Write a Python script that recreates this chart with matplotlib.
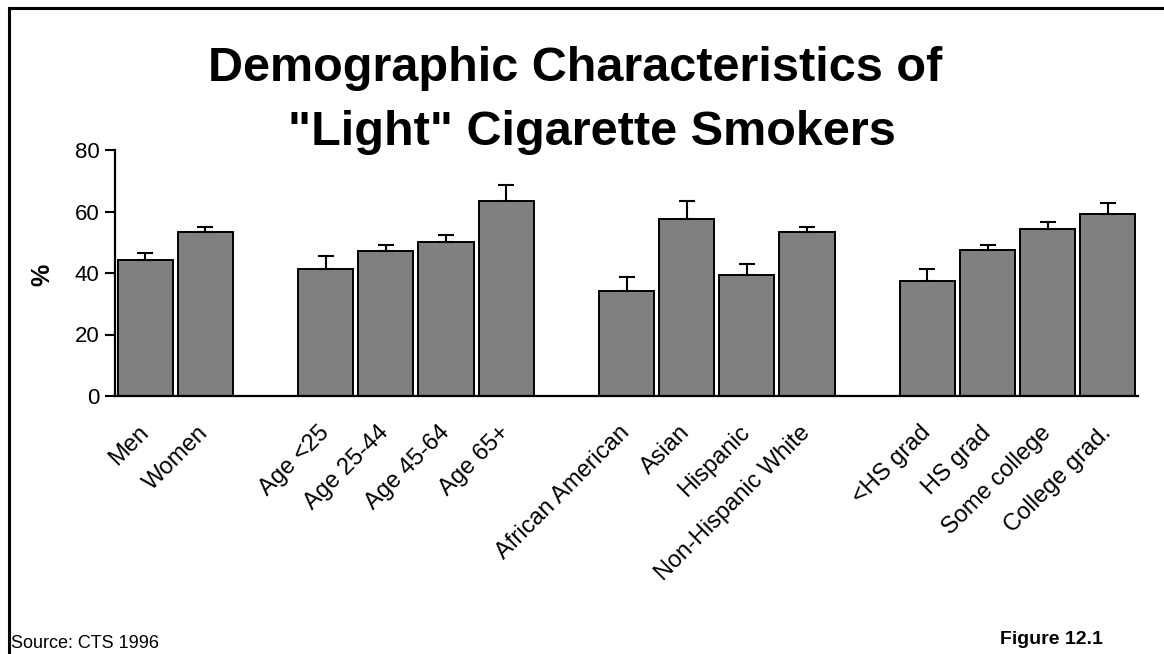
import numpy as np
import matplotlib
matplotlib.use('Agg')
from matplotlib import pyplot as plt
from matplotlib.patches import Rectangle

plt.rcParams['font.family'] = ['Liberation Sans', 'DejaVu Sans']

# data
categories = ['Men', 'Women',
              'Age <25', 'Age 25-44', 'Age 45-64', 'Age 65+',
              'African American', 'Asian', 'Hispanic', 'Non-Hispanic White',
              '<HS grad', 'HS grad', 'Some college', 'College grad.']
groups = [2, 4, 4, 4]
values = [44.2, 53.3, 41.3, 47.3, 50.2, 63.3, 34.3, 57.4, 39.2, 53.4, 37.4, 47.4, 54.3, 59.3]
upper_err = [2.2, 1.8, 4.3, 1.8, 2.3, 5.3, 4.3, 5.9, 3.6, 1.7, 3.8, 1.7, 2.3, 3.6]
yticks = [0, 20, 40, 60, 80]
title_lines = ['Demographic Characteristics of', '"Light" Cigarette Smokers']

# x positions: one empty slot between groups
positions = []
pos = 0
for n in groups:
    positions += list(range(pos, pos + n))
    pos += n + 1
positions = np.array(positions)

fig = plt.figure(figsize=(11.64, 6.54), dpi=100)
ax = fig.add_axes([115/1164, 1 - 396/654, (1138 - 115)/1164, (396 - 150)/654])

ax.bar(positions, values, width=0.915, color='#808080', edgecolor='black', linewidth=1.4, zorder=2)
ax.errorbar(positions, values, yerr=[np.zeros(len(values)), upper_err], fmt='none',
            ecolor='black', elinewidth=1.5, capsize=6, capthick=1.5, zorder=3)

ax.set_xlim(-0.5, positions[-1] + 0.5)
ax.set_ylim(0, 80)
ax.set_yticks(yticks)
ax.tick_params(axis='y', direction='out', length=7, width=1.5, labelsize=16, pad=4)
ax.set_xticks(positions)
ax.set_xticklabels(categories, rotation=45, ha='right', va='center', rotation_mode='anchor', fontsize=17)
ax.tick_params(axis='x', length=0, pad=24)
for s in ['top', 'right']:
    ax.spines[s].set_visible(False)
for s in ['left', 'bottom']:
    ax.spines[s].set_linewidth(1.6)

fig.text(42/1164, 1 - 275/654, '%', rotation=90, fontsize=18, fontweight='bold', ha='center', va='center')

fig.text(575/1164, 1 - 81/654, title_lines[0], fontsize=35, fontweight='bold', ha='center', va='baseline')
fig.text(592/1164, 1 - 145/654, title_lines[1], fontsize=35, fontweight='bold', ha='center', va='baseline')

fig.text(11/1164, 1 - 648/654, 'Source: CTS 1996', fontsize=13, ha='left', va='baseline')
fig.text(1103/1164, 1 - 644/654, 'Figure 12.1', fontsize=14, fontweight='bold', ha='right', va='baseline')

# frame around the slide (top and left edges visible)
fig.patches.append(Rectangle((9/1164, -0.1), 1.2, 1.1 - 8/654, transform=fig.transFigure,
                             fill=False, edgecolor='black', linewidth=2.2))

fig.savefig('out.png', dpi=100)
